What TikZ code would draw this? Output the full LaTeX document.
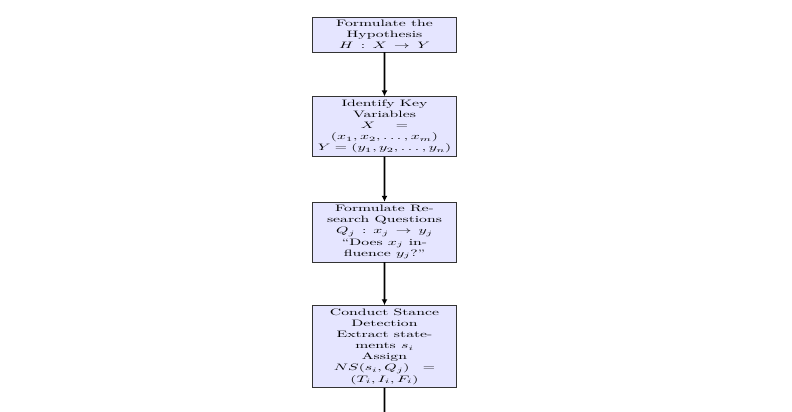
\documentclass[tikz,border=0pt]{standalone}
\usetikzlibrary{arrows.meta}
\begin{document}
\begin{tikzpicture}[x=1pt,y=-1pt,
  flowbox/.style={draw=black!80, fill=blue!10, text width=3cm, align=center,
    transform shape, xscale=1.57, yscale=0.93, line width=0.5pt},
  flowarrow/.style={line width=1.6pt, -{Latex[length=6pt,width=6pt]}}]
\useasboundingbox (0,0) rectangle (792,412);
\node[flowbox] (n1) at (384.5,34.5) {Formulate the\\ Hypothesis\\ $H : X \rightarrow Y$};
\node[flowbox] (n2) at (384.5,126.5) {Identify Key\\ Variables\\ $X\ \ =$\\ $(x_1, x_2, \ldots, x_m)$\\ $Y = (y_1, y_2, \ldots, y_n)$};
\node[flowbox] (n3) at (384.5,232) {Formulate Re-\\ search Questions\\ $Q_j : x_j \rightarrow y_j$\\ ``Does $x_j$ in-\\ fluence $y_j$?''};
\node[flowbox] (n4) at (384.5,346.5) {Conduct Stance\\ Detection\\ Extract state-\\ ments $s_i$\\ Assign\\ $NS(s_i, Q_j) \;=$\\ $(T_i, I_i, F_i)$};
\coordinate (n5) at (384.5,412);
\draw[flowarrow] (n1) -- (n2);
\draw[flowarrow] (n2) -- (n3);
\draw[flowarrow] (n3) -- (n4);
\draw[line width=1.6pt] (n4) -- (n5);
\end{tikzpicture}
\end{document}
